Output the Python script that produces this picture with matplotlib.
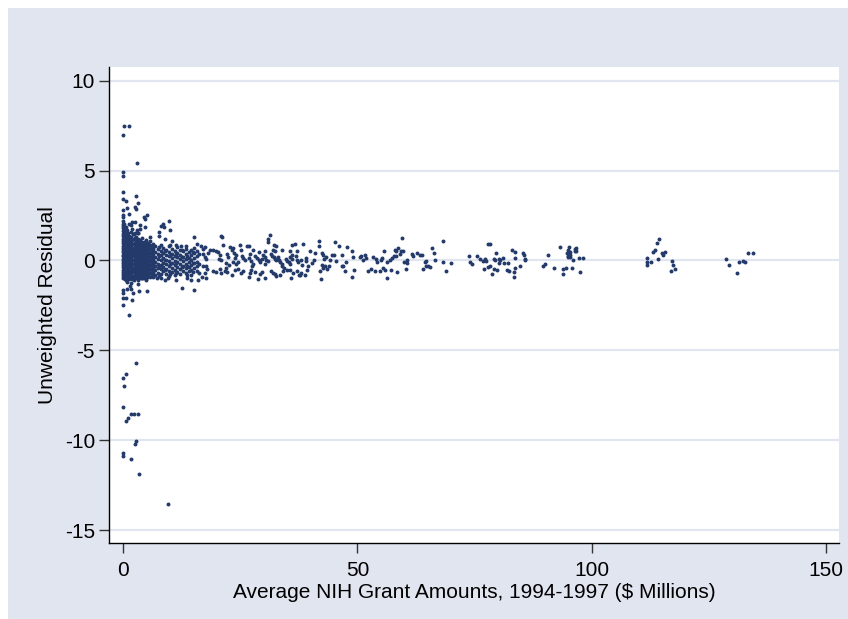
import matplotlib
matplotlib.use("Agg")
import matplotlib.pyplot as plt
from matplotlib.patches import Rectangle

plt.rcParams['font.family'] = ['Liberation Sans Narrow', 'Liberation Sans', 'DejaVu Sans']
plt.rcParams['axes.unicode_minus'] = False

# ---- data (x = $ millions, y = unweighted residual) ----
# isolated points / outliers
outlier_pts = [
    (-0.1, 6.98), (0.2, 7.46), (1.35, 7.48), (3.05, 5.44), (0.0, 4.93), (0.0, 4.69),
    (0.0, 3.81), (0.0, 3.44), (0.57, 3.33), (2.8, 3.56), (3.2, 3.18), (2.5, 2.95),
    (2.7, 2.85), (0.95, 2.9), (1.3, 2.6), (5.1, 2.54), (4.4, 2.4), (4.7, 2.3),
    (9.7, 2.17), (8.6, 2.05), (8.7, 1.85), (8.2, 1.9), (10.0, 1.7), (15.1, 1.3),
    (21.1, 1.33), (0.64, 1.85), (1.2, 2.0), (1.63, 1.95), (1.92, 1.75), (2.2, 1.48),
    (2.5, 1.55), (2.9, 1.67), (3.3, 1.5), (3.6, 1.95), (3.6, 1.75), (4.6, 1.85),
    (1.9, 2.15), (2.6, 2.15), (5.75, 1.3), (7.6, 1.6), (7.6, 1.35), (8.9, 1.2),
    (10.4, 1.1), (11.4, 0.87), (12.4, 0.82), (13.4, 0.82), (15.7, 0.9), (17.1, 0.62),
    (0.0, -1.67), (0.0, -1.8), (0.0, -2.1), (0.7, -2.1), (2.0, -2.2), (0.0, -2.48),
    (0.8, -1.6), (1.4, -1.45), (1.8, -1.6), (2.1, -1.8), (3.4, -1.7), (5.2, -1.7),
    (12.5, -1.55), (15.1, -1.65), (3.3, -1.1), (4.2, -0.95), (5.0, -1.1), (6.5, -0.9),
    (7.2, -0.98), (8.9, -1.1), (9.5, -0.97), (11.4, -1.1), (13.7, -0.97), (14.6, -1.1),
    (16.0, -1.1), (17.6, -0.97),
    (1.35, -3.06), (2.77, -5.68), (0.64, -6.33), (0.0, -6.52), (0.28, -6.98),
    (0.0, -8.15), (1.7, -8.54), (2.4, -8.54), (3.3, -8.57), (1.0, -8.74), (0.57, -8.94),
    (2.7, -10.06), (2.56, -10.19), (0.0, -10.69), (0.0, -10.89), (1.64, -11.07),
    (3.34, -11.89), (9.59, -13.57),
]

# dense mass near zero grant amount: x column -> residuals
core_x = [0.0, 0.45, 0.9, 1.35, 1.8, 2.25, 2.7, 3.15, 3.6, 4.05, 4.5, 4.95, 5.4, 5.85, 6.3]
core_y = [
    [2.82, 2.55, 2.4, 2.22, 2.05, 1.93, 1.78, 1.62, 1.48, 1.36, 1.22, 1.08, 0.96, 0.83,
     0.71, 0.58, 0.46, 0.33, 0.22, 0.1, -0.02, -0.14, -0.27, -0.38, -0.51, -0.62, -0.74,
     -0.86, -0.97],
    [1.55, 1.3, 1.05, 0.82, 0.6, 0.41, 0.18, -0.03, -0.25, -0.44, -0.66, -0.85, -1.02],
    [1.7, 1.42, 1.16, 0.93, 0.7, 0.5, 0.27, 0.06, -0.16, -0.37, -0.58, -0.79, -0.98, -1.2],
    [1.38, 1.12, 0.88, 0.63, 0.42, 0.2, -0.01, -0.22, -0.45, -0.63, -0.83, -1.05],
    [1.6, 1.28, 1.02, 0.79, 0.55, 0.33, 0.12, -0.1, -0.31, -0.52, -0.72, -0.94, -1.25],
    [1.45, 1.18, 0.92, 0.68, 0.46, 0.24, 0.02, -0.19, -0.4, -0.61, -0.86, -1.08],
    [1.3, 1.06, 0.83, 0.6, 0.37, 0.15, -0.06, -0.28, -0.5, -0.7, -0.92],
    [1.5, 1.2, 0.95, 0.72, 0.5, 0.28, 0.07, -0.14, -0.35, -0.56, -0.78, -1.0, -1.3],
    [1.12, 0.88, 0.65, 0.42, 0.2, -0.02, -0.24, -0.45, -0.66, -0.88],
    [1.25, 0.98, 0.76, 0.53, 0.31, 0.1, -0.12, -0.33, -0.55, -0.76, -0.97],
    [1.05, 0.82, 0.6, 0.37, 0.16, -0.05, -0.27, -0.48, -0.7, -0.9],
    [1.15, 0.9, 0.7, 0.47, 0.25, 0.04, -0.18, -0.4, -0.62, -0.84, -1.05],
    [0.95, 0.73, 0.5, 0.28, 0.08, -0.14, -0.36, -0.58, -0.8],
    [1.08, 0.85, 0.62, 0.4, 0.18, -0.03, -0.25, -0.47, -0.7, -0.92],
    [0.9, 0.66, 0.44, 0.22, 0.0, -0.22, -0.43, -0.64, -0.86],
]

# second, staggered set of columns inside the same mass
core2_x = [0.22, 0.68, 1.12, 1.58, 2.02, 2.48, 2.92, 3.38, 3.82, 4.28, 4.72, 5.18, 5.62, 6.08]
core2_y = [
    [2.0, 1.7, 1.45, 1.2, 0.98, 0.76, 0.54, 0.3, 0.08, -0.14, -0.35, -0.57, -0.78, -0.95],
    [1.35, 1.1, 0.86, 0.64, 0.4, 0.17, -0.06, -0.28, -0.49, -0.7, -0.92, -1.1],
    [1.52, 1.25, 1.0, 0.78, 0.55, 0.32, 0.1, -0.12, -0.33, -0.55, -0.74, -0.95],
    [1.2, 0.95, 0.74, 0.52, 0.3, 0.08, -0.13, -0.36, -0.58, -0.8, -1.0],
    [1.15, 0.9, 0.66, 0.44, 0.22, 0.0, -0.22, -0.43, -0.64, -0.84, -1.03],
    [1.25, 0.98, 0.75, 0.52, 0.3, 0.08, -0.14, -0.35, -0.55, -0.76, -0.97],
    [1.1, 0.9, 0.7, 0.48, 0.26, 0.04, -0.17, -0.39, -0.6, -0.82],
    [1.0, 0.78, 0.55, 0.34, 0.12, -0.1, -0.3, -0.52, -0.73, -0.95],
    [1.05, 0.8, 0.58, 0.35, 0.13, -0.08, -0.3, -0.53, -0.75, -1.0],
    [0.9, 0.68, 0.45, 0.24, 0.02, -0.2, -0.41, -0.62, -0.83],
    [0.95, 0.72, 0.5, 0.28, 0.06, -0.15, -0.37, -0.58, -0.78],
    [0.85, 0.62, 0.4, 0.18, -0.04, -0.26, -0.5, -0.72, -0.92],
    [0.88, 0.64, 0.4, 0.17, -0.05, -0.27, -0.5, -0.7],
    [0.78, 0.55, 0.32, 0.1, -0.12, -0.34, -0.56, -0.78],
]

# thinner band between roughly 7 and 16 million
band_x = [6.8, 7.4, 8.0, 8.6, 9.2, 9.8, 10.4, 11.0, 11.6, 12.2, 12.8, 13.4, 14.0, 14.6, 15.2, 15.8]
band_y = [
    [0.78, 0.45, 0.2, -0.08, -0.3, -0.55, -0.82],
    [0.62, 0.35, 0.1, -0.18, -0.42, -0.7],
    [0.85, 0.55, 0.28, 0.02, -0.25, -0.5, -0.78, -0.95],
    [0.7, 0.4, 0.15, -0.12, -0.38, -0.6],
    [0.58, 0.3, 0.05, -0.2, -0.46, -0.74],
    [0.8, 0.48, 0.22, -0.05, -0.32, -0.58, -0.85],
    [0.65, 0.38, 0.12, -0.15, -0.4, -0.66],
    [0.52, 0.25, -0.02, -0.28, -0.55, -0.8],
    [0.72, 0.43, 0.18, -0.1, -0.36, -0.62],
    [0.6, 0.32, 0.06, -0.22, -0.48, -0.75],
    [0.5, 0.2, -0.05, -0.3, -0.6],
    [0.66, 0.38, 0.1, -0.18, -0.44, -0.7],
    [0.45, 0.16, -0.1, -0.35, -0.58],
    [0.58, 0.28, 0.02, -0.25, -0.52, -0.8],
    [0.7, 0.4, 0.12, -0.15, -0.42],
    [0.5, 0.22, -0.06, -0.32, -0.6],
]

band2_x = [7.7, 8.9, 10.1, 11.3, 12.5, 13.7, 14.9, 16.1]
band2_y = [
    [0.75, 0.22, -0.3, -0.85],
    [0.52, 0.0, -0.52],
    [0.85, 0.3, -0.22, -0.75],
    [0.38, -0.16, -0.68],
    [0.6, 0.18, -0.35],
    [0.22, -0.3, -0.8],
    [0.45, -0.12, -0.65],
    [0.35, -0.18, -0.72],
]

# individual points from 16 to 135 million
tail_pts = [
    (21.0, 1.35), (31.45, 1.41), (31.0, 1.22), (30.9, 1.0), (21.4, 0.85), (22.8, 0.74),
    (23.4, 0.7), (24.9, 0.85), (26.5, 0.81), (26.8, 0.8), (27.8, 0.56), (28.9, 0.46),
    (30.2, 0.52), (32.2, 0.85), (32.6, 0.78), (32.0, 0.59), (32.4, 0.52), (34.0, 0.56),
    (35.6, 0.52), (36.1, 0.85), (36.7, 0.89), (37.0, 0.52), (36.0, 0.33), (17.4, 0.74),
    (16.7, 0.83), (18.5, 0.59), (19.2, 0.59), (19.8, 0.52), (18.2, 0.41), (17.0, 0.37),
    (17.4, 0.19), (17.8, 0.09), (20.2, 0.46), (20.7, 0.33), (20.5, 0.09), (20.8, 0.0),
    (22.1, 0.37), (22.4, 0.19), (21.9, -0.15), (22.5, -0.26), (23.2, 0.56), (23.6, 0.41),
    (24.1, 0.33), (23.8, 0.11), (23.5, -0.11), (24.2, -0.19), (24.5, -0.11), (25.2, 0.56),
    (25.3, 0.26), (25.6, 0.15), (26.1, 0.04), (27.1, 0.37), (26.8, 0.15), (27.3, -0.04),
    (27.8, -0.19), (27.6, -0.3), (28.2, 0.22), (28.5, 0.11), (28.9, 0.0), (29.2, -0.11),
    (29.6, 0.07), (29.9, 0.3), (30.3, 0.19), (30.6, 0.04), (30.9, -0.04), (30.2, -0.19),
    (31.5, 0.37), (31.7, 0.26), (32.2, 0.19), (32.4, 0.07), (32.7, 0.0), (33.0, 0.19),
    (33.2, 0.0), (33.4, -0.11), (33.9, -0.19), (34.0, -0.33), (34.3, -0.44), (34.7, 0.07),
    (35.0, -0.04), (35.4, -0.11), (35.7, -0.19), (35.6, 0.19), (36.1, 0.07), (36.8, 0.26),
    (37.0, 0.0), (37.4, -0.11), (38.0, 0.0), (38.1, -0.26),
    (16.8, -0.93), (17.4, -0.7), (18.0, -0.48), (17.7, -0.3), (17.0, -0.33), (19.2, -0.59),
    (19.8, -0.67), (20.7, -0.48), (20.9, -0.7), (21.7, -0.59), (21.9, -0.44), (22.1, -0.67),
    (23.2, -0.81), (23.9, -0.56), (24.6, -0.48), (25.1, -0.7), (25.5, -0.59), (26.8, -0.93),
    (27.1, -0.7), (27.3, -0.56), (28.2, -0.63), (28.8, -1.02), (29.2, -0.74), (29.6, -0.63),
    (30.2, -0.96), (31.5, -0.59), (31.9, -0.7), (32.4, -0.78), (32.7, -0.85), (33.4, -0.81),
    (34.2, -0.59), (35.0, -0.56), (35.6, -0.56), (35.9, -0.96), (36.3, -0.7), (37.0, -0.59),
    (37.6, -0.81), (38.0, -0.7), (38.8, -0.81),
    (37.85, -0.82), (38.4, 0.91), (39.0, 0.11), (39.0, -0.05), (39.4, -0.33), (39.3, -0.52),
    (39.8, 0.5), (40.3, -0.15), (40.8, 0.04), (41.0, 0.39), (41.7, 1.07), (41.7, 0.78),
    (42.2, -1.06), (42.0, -0.59), (42.4, 0.4), (42.7, 0.3), (42.9, 0.1), (43.2, 0.2),
    (42.4, -0.24), (42.7, -0.4), (43.0, -0.3), (43.5, -0.45), (44.1, 0.04), (44.0, -0.33),
    (44.5, 0.31), (45.0, 0.31), (45.2, 1.02), (45.4, -0.05), (46.0, 0.81), (46.6, -0.3),
    (47.0, -0.33), (46.8, 0.3), (47.5, -0.06), (47.4, -0.59), (47.7, 0.74), (48.9, 0.5),
    (49.1, 0.18), (49.2, -0.52), (48.9, -0.93), (50.5, 0.18), (50.7, 0.22), (51.2, 0.0),
    (51.7, 0.3), (51.9, 0.16), (52.3, -0.6), (52.8, -0.45), (53.3, 0.19), (53.7, -0.59),
    (53.9, 0.07), (54.2, -0.1), (54.9, -0.6), (55.1, 0.0), (55.3, 0.15), (55.6, 0.5),
    (55.5, -0.41), (55.8, -0.55), (56.2, -0.95), (56.4, -0.1), (57.0, 0.05), (57.4, 0.14),
    (57.7, 0.25), (57.1, -0.56), (58.0, 0.6), (58.2, 0.5), (58.6, 0.7), (58.4, -0.63),
    (58.3, 0.25), (59.0, 0.37), (59.2, 0.5), (59.6, 1.26), (59.8, 0.52), (59.9, -0.07),
    (60.5, 0.0), (60.6, -0.15), (60.4, -0.45), (61.6, 0.35), (61.8, 0.27), (62.8, 0.42),
    (63.4, 0.3), (63.7, 0.3), (64.0, -0.5), (64.4, -0.1), (64.7, -0.05), (64.6, -0.3),
    (65.1, -0.3), (65.4, -0.35), (66.0, 0.68), (66.4, 0.4), (66.5, 0.03), (68.2, 1.1),
    (68.2, -0.07), (68.8, -0.59), (69.9, -0.15), (73.8, 0.26), (74.0, -0.1), (74.5, -0.2),
    (75.4, 0.26), (76.1, 0.07), (76.8, -0.05), (77.2, 0.07), (77.5, -0.03), (76.9, -0.45),
    (77.9, 0.9), (78.2, 0.9), (77.9, -0.37), (78.2, -0.3), (78.8, -0.75), (79.2, 0.1),
    (79.3, 0.0), (79.5, 0.4), (79.1, -0.45), (79.7, -0.52), (80.2, 0.1), (80.4, 0.03),
    (80.2, -0.15), (81.0, 0.15), (81.2, -0.15), (81.8, -0.52), (82.4, -0.6), (82.2, -0.15),
    (82.9, 0.56), (83.3, -0.65), (83.3, -0.9), (83.5, -0.4), (83.6, 0.48), (83.5, 0.15),
    (84.6, -0.33), (85.2, 0.4), (85.5, 0.3), (85.8, 0.0), (85.7, 0.07), (89.6, -0.33),
    (89.9, -0.2), (90.6, 0.3),
    (92.0, -0.42), (93.2, 0.76), (93.8, -0.76), (93.9, -0.48), (94.5, -0.4), (94.7, 0.39),
    (94.9, 0.56), (95.0, 0.26), (94.9, 0.19), (95.2, 0.72), (95.3, 0.46), (95.4, 0.31),
    (95.3, 0.19), (95.7, -0.43), (95.9, 0.04), (96.3, 0.65), (96.4, 0.52), (96.6, 0.68),
    (96.7, 0.52), (97.2, 0.15), (97.4, -0.63), (98.2, 0.15),
    (111.7, 0.15), (111.8, -0.1), (111.7, -0.25), (112.6, -0.1), (113.0, 0.48), (113.4, 0.56),
    (113.8, 0.98), (114.4, 1.22), (114.1, 0.09), (114.9, 0.41), (115.1, 0.31), (115.5, 0.46),
    (117.0, -0.02), (117.4, -0.28), (117.7, -0.46), (116.9, -0.57),
    (128.6, 0.09), (129.3, -0.28), (131.0, -0.7), (131.4, -0.07), (132.3, -0.02),
    (132.6, -0.1), (133.3, 0.41), (134.4, 0.44),
]

y_ticks = [-15, -10, -5, 0, 5, 10]
x_ticks = [0, 50, 100, 150]

BG = "#E1E5F0"
DOT = "#233a6a"


def main():
    fig = plt.figure(figsize=(8.48, 6.19), dpi=100, facecolor="white")
    # Stata-like graph region (white strip along top and left edges)
    fig.patches.append(Rectangle((8 / 848, 0), 1, 1 - 8 / 619, transform=fig.transFigure,
                                 facecolor=BG, edgecolor="none", zorder=-10))

    ax = fig.add_axes([109 / 848, 1 - 543.3 / 619, 730 / 848, 476.6 / 619])
    ax.set_facecolor("white")

    xs, ys = [], []
    for cols_x, cols_y in ((core_x, core_y), (core2_x, core2_y),
                           (band_x, band_y), (band2_x, band2_y)):
        for x, col in zip(cols_x, cols_y):
            xs += [x] * len(col)
            ys += col
    for x, y in outlier_pts + tail_pts:
        xs.append(x)
        ys.append(y)

    ax.scatter(xs, ys, s=8, color=DOT, linewidths=0, zorder=3)

    ax.set_xlim(-2.99, 152.7)
    ax.set_ylim(-15.74, 10.78)
    ax.set_xticks(x_ticks)
    ax.set_yticks(y_ticks)
    ax.yaxis.grid(True, color=BG, linewidth=1.6)
    ax.set_axisbelow(True)

    for side in ("top", "right"):
        ax.spines[side].set_visible(False)
    for side in ("left", "bottom"):
        ax.spines[side].set_color("black")
        ax.spines[side].set_linewidth(1.0)

    ax.tick_params(axis="both", direction="out", length=7, width=1, color="#333333",
                   labelsize=15)
    ax.tick_params(axis="x", pad=6)
    ax.tick_params(axis="y", pad=3)
    ax.set_xlabel("Average NIH Grant Amounts, 1994-1997 ($ Millions)", fontsize=15, labelpad=2)
    ax.set_ylabel("Unweighted Residual", fontsize=15, labelpad=6)

    fig.savefig("out.png", dpi=100, facecolor="white")
    plt.close(fig)


if __name__ == "__main__":
    main()
